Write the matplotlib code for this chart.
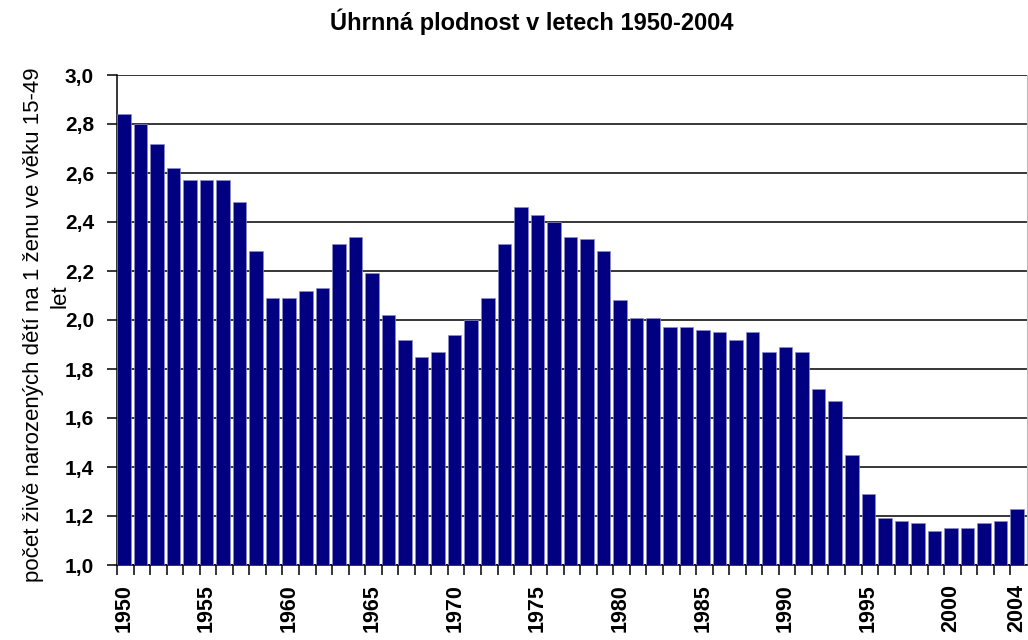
import numpy as np
import matplotlib
matplotlib.use('Agg')
import matplotlib.pyplot as plt

# Úhrnná plodnost 1950-2004
years = list(range(1950, 2005))
tfr = [2.84, 2.80, 2.72, 2.62, 2.57, 2.57, 2.57, 2.48, 2.28, 2.09,
       2.09, 2.12, 2.13, 2.31, 2.34, 2.19, 2.02, 1.92, 1.85, 1.87,
       1.94, 2.00, 2.09, 2.31, 2.46, 2.43, 2.40, 2.34, 2.33, 2.28,
       2.08, 2.01, 2.01, 1.97, 1.97, 1.96, 1.95, 1.92, 1.95, 1.87,
       1.89, 1.87, 1.72, 1.67, 1.45, 1.29, 1.19, 1.18, 1.17, 1.14,
       1.15, 1.15, 1.17, 1.18, 1.23]
label_years = [1950, 1955, 1960, 1965, 1970, 1975, 1980, 1985, 1990, 1995, 2000, 2004]
yticks = [1.0, 1.2, 1.4, 1.6, 1.8, 2.0, 2.2, 2.4, 2.6, 2.8, 3.0]

title = 'Úhrnná plodnost v letech 1950-2004'
ylabel_lines = ['počet živě narozených dětí na 1 ženu ve věku 15-49', 'let']

matplotlib.rcParams['font.family'] = ['Liberation Sans', 'DejaVu Sans']

fig = plt.figure(figsize=(10.28, 6.4), dpi=100)
ax = fig.add_axes([117 / 1028, 1 - 565 / 640, 910 / 1028, 490 / 640])

bw = 0.82
x = np.arange(len(years))
ax.bar(x, [v - 1.0 for v in tfr], bottom=1.0, width=bw, align='edge',
       color='#000080', edgecolor='#8c8cc8', linewidth=0.5, zorder=3)

ax.set_xlim(0, len(years))
ax.set_ylim(1.0, 3.0)

ax.set_yticks(yticks)
ax.set_yticklabels([f'{v:.1f}'.replace('.', ',') for v in yticks],
                   fontsize=15, fontweight='bold')
ax.yaxis.grid(True, color='black', linewidth=1.1, zorder=0)
ax.set_axisbelow(True)
ax.tick_params(axis='y', length=7, width=1.1, pad=9.5, direction='out')

idx = [years.index(y) for y in label_years]
ax.set_xticks([i + bw / 2 for i in idx])
ax.set_xticklabels([str(y) for y in label_years], rotation=90,
                   fontsize=15.5, fontweight='bold', va='top')
ax.set_xticks(np.arange(len(years)), minor=True)
ax.tick_params(axis='x', which='major', length=0, pad=14)
ax.tick_params(axis='x', which='minor', length=7, width=1.1, direction='out')

ax.spines['top'].set_visible(False)
ax.spines['right'].set_color('#bbbbbb')
ax.spines['left'].set_linewidth(1.1)
ax.spines['bottom'].set_linewidth(1.1)

fig.text(532 / 1028, 1 - 22 / 640, title, ha='center', va='center',
         fontsize=17, fontweight='bold')
# y label: the second line ("let") sits next to the tick labels, as in the reference
fig.text(34 / 1028, 1 - 325 / 640, ylabel_lines[0], rotation=90,
         ha='center', va='center', fontsize=16)
fig.text(60 / 1028, 1 - 296 / 640, ylabel_lines[1], rotation=90,
         ha='center', va='center', fontsize=16)

fig.savefig('out.png', dpi=100)
